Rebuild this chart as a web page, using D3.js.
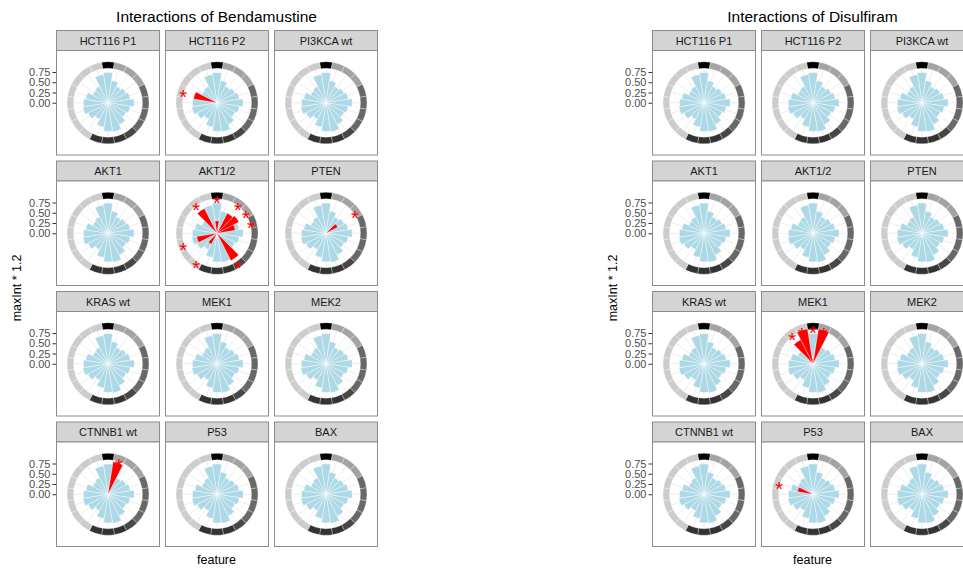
<!DOCTYPE html>
<html>
<head>
<meta charset="utf-8">
<script src="https://cdn.jsdelivr.net/npm/d3@7"></script>
<style>
  body { margin: 0; background: #fff; }
  text { font-family: "Liberation Sans", Arial, sans-serif; }
</style>
</head>
<body>
<div id="vis"></div>
<script>
// ---- data ----
var features = d3.range(1, 21);   // 20 features round the circle, 1 at 12 o'clock

var cellLines = ['HCT116 P1', 'HCT116 P2', 'PI3KCA wt',
                 'AKT1', 'AKT1/2', 'PTEN',
                 'KRAS wt', 'MEK1', 'MEK2',
                 'CTNNB1 wt', 'P53', 'BAX'];

var drugs = ['Bendamustine', 'Disulfiram'];

// light blue bars (same in every panel)
var maxInt = [0.74, 0.55, 0.45, 0.50, 0.55, 0.64, 0.55, 0.50, 0.60, 0.72,
              0.70, 0.60, 0.45, 0.55, 0.62, 0.60, 0.55, 0.42, 0.45, 0.70];

// feature class shown on the outer ring
var featureClass = [1, 2, 2, 2, 3, 3, 3, 3, 4, 5,
                    5, 5, 6, 6, 6, 6, 6, 6, 6, 6];

var yTicks = [0, 0.25, 0.5, 0.75];

// significant interactions (red bars + asterisk)
var hitsBendamustine = [
  { cell: 'HCT116 P2', feature: 17, value: 0.58 },
  { cell: 'AKT1/2', feature: 19, value: 0.68 },
  { cell: 'AKT1/2', feature: 1, value: 0.30 },
  { cell: 'AKT1/2', feature: 3, value: 0.55 },
  { cell: 'AKT1/2', feature: 4, value: 0.60 },
  { cell: 'AKT1/2', feature: 5, value: 0.45 },
  { cell: 'AKT1/2', feature: 9, value: 0.75 },
  { cell: 'AKT1/2', feature: 13, value: 0.30 },
  { cell: 'AKT1/2', feature: 15, value: 0.50 },
  { cell: 'PTEN', feature: 4, value: 0.32 },
  { cell: 'CTNNB1 wt', feature: 2, value: 0.80 }
];

var hitsDisulfiram = [
  { cell: 'MEK1', feature: 19, value: 0.66 },
  { cell: 'MEK1', feature: 20, value: 0.86 },
  { cell: 'MEK1', feature: 1, value: 0.12 },
  { cell: 'MEK1', feature: 2, value: 0.86 },
  { cell: 'P53', feature: 17, value: 0.38 }
];

var hitsByDrug = { Bendamustine: hitsBendamustine, Disulfiram: hitsDisulfiram };

// ---- layout ----
var width = 963;
var height = 568;
var chartOffset = 596;      // second chart starts this far to the right
var firstPanelX = 56;
var panelW = 103;
var panelGapX = 6;
var stripTop = 30;
var stripH = 20;
var bodyH = 104.5;
var panelGapY = 6;
var outerR = 41;
var ringInner = 0.84;
var ringOuter = 1.0;

var ringColor = d3.scaleOrdinal()
  .domain([1, 2, 3, 4, 5, 6])
  .range(['#000000', '#a3a3a3', '#686868', '#474747', '#333333', '#cccccc']);

var angle = d3.scaleBand()
  .domain(features)
  .range([-Math.PI / 20, 2 * Math.PI - Math.PI / 20])
  .padding(0);

var r = d3.scaleLinear().domain([0, 1]).range([0, outerR]);

var arc = d3.arc();

var svg = d3.select('#vis').append('svg')
  .attr('width', width)
  .attr('height', height);

function wedge(f, r0, r1) {
  var a0 = angle(f);
  return arc({ innerRadius: r(r0), outerRadius: r(r1), startAngle: a0, endAngle: a0 + angle.bandwidth() });
}

function drawChart(drug, di) {
  var g = svg.append('g').attr('transform', 'translate(' + (di * chartOffset) + ',0)');
  var hits = hitsByDrug[drug];
  var panelsRight = firstPanelX + 3 * panelW + 2 * panelGapX;
  var midX = (firstPanelX + panelsRight) / 2;
  var bottom = stripTop + 4 * (stripH + bodyH) + 3 * panelGapY;

  g.append('text')
    .attr('x', midX).attr('y', 22)
    .attr('text-anchor', 'middle')
    .attr('font-size', 15.5)
    .attr('fill', '#000')
    .text('Interactions of ' + drug);

  g.append('text')
    .attr('x', midX).attr('y', 564)
    .attr('text-anchor', 'middle')
    .attr('font-size', 12.5)
    .attr('fill', '#000')
    .text('feature');

  g.append('text')
    .attr('transform', 'translate(21,' + ((stripTop + bottom) / 2) + ') rotate(-90)')
    .attr('text-anchor', 'middle')
    .attr('font-size', 12.5)
    .attr('fill', '#000')
    .text('maxInt * 1.2');

  cellLines.forEach(function (cell, i) {
    var col = i % 3;
    var row = Math.floor(i / 3);
    var px = firstPanelX + col * (panelW + panelGapX);
    var py = stripTop + row * (stripH + bodyH + panelGapY);
    var p = g.append('g').attr('transform', 'translate(' + px + ',' + py + ')');

    // strip
    p.append('rect')
      .attr('x', 0.5).attr('y', 0.5)
      .attr('width', panelW).attr('height', stripH)
      .attr('fill', '#d4d4d4').attr('stroke', '#8c8c8c').attr('stroke-width', 1);
    p.append('text')
      .attr('x', panelW / 2 + 0.5).attr('y', 14.5)
      .attr('text-anchor', 'middle')
      .attr('font-size', 11)
      .attr('fill', '#1a1a1a')
      .text(cell);

    // body
    p.append('rect')
      .attr('x', 0.5).attr('y', stripH + 0.5)
      .attr('width', panelW).attr('height', bodyH)
      .attr('fill', '#fff').attr('stroke', '#8c8c8c').attr('stroke-width', 1);

    var cx = panelW / 2 + 0.5;
    var cy = stripH + bodyH / 2 + 0.5;
    var c = p.append('g').attr('transform', 'translate(' + cx + ',' + cy + ')');

    // radial grid
    c.selectAll('.grid').data(features).enter().append('line')
      .attr('class', 'grid')
      .attr('x1', 0).attr('y1', 0)
      .attr('x2', function (f) { return r(ringInner) * Math.sin(angle(f) + angle.bandwidth() / 2); })
      .attr('y2', function (f) { return -r(ringInner) * Math.cos(angle(f) + angle.bandwidth() / 2); })
      .attr('stroke', '#e0e0e0').attr('stroke-width', 0.6);

    // outer ring
    c.selectAll('.ring').data(features).enter().append('path')
      .attr('class', 'ring')
      .attr('d', function (f) { return wedge(f, ringInner, ringOuter); })
      .attr('fill', function (f, k) { return ringColor(featureClass[k]); })
      .attr('stroke', '#fff').attr('stroke-width', 0.3);

    // blue bars
    c.selectAll('.bar').data(features).enter().append('path')
      .attr('class', 'bar')
      .attr('d', function (f, k) { return wedge(f, 0, maxInt[k]); })
      .attr('fill', '#add8e6')
      .attr('stroke', '#fff').attr('stroke-width', 0.4);

    // significant hits
    var mine = hits.filter(function (h) { return h.cell === cell; });
    c.selectAll('.hit').data(mine).enter().append('path')
      .attr('class', 'hit')
      .attr('d', function (h) { return wedge(h.feature, 0, h.value); })
      .attr('fill', '#ff0000')
      .attr('stroke', '#fff').attr('stroke-width', 0.3);

    c.selectAll('.star').data(mine).enter().append('text')
      .attr('class', 'star')
      .attr('x', function (h) { return r(0.87) * Math.sin(angle(h.feature) + angle.bandwidth() / 2); })
      .attr('y', function (h) { return -r(0.87) * Math.cos(angle(h.feature) + angle.bandwidth() / 2); })
      .attr('dy', '0.62em')
      .attr('text-anchor', 'middle')
      .attr('font-size', 20)
      .attr('fill', '#ff0000')
      .text('*');

    // y axis on the first column only
    if (col === 0) {
      var yScale = d3.scaleLinear().domain([0, 1]).range([cy, cy - outerR]);
      var ax = p.append('g')
        .call(d3.axisLeft(yScale).tickValues(yTicks).tickSize(3.5).tickPadding(2).tickFormat(d3.format('.2f')));
      ax.select('.domain').remove();
      ax.selectAll('line').attr('stroke', '#333');
      ax.selectAll('text')
        .attr('font-size', 11)
        .attr('fill', '#4d4d4d')
        .attr('font-family', '"Liberation Sans", Arial, sans-serif');
    }
  });
}

drugs.forEach(drawChart);
</script>
</body>
</html>
